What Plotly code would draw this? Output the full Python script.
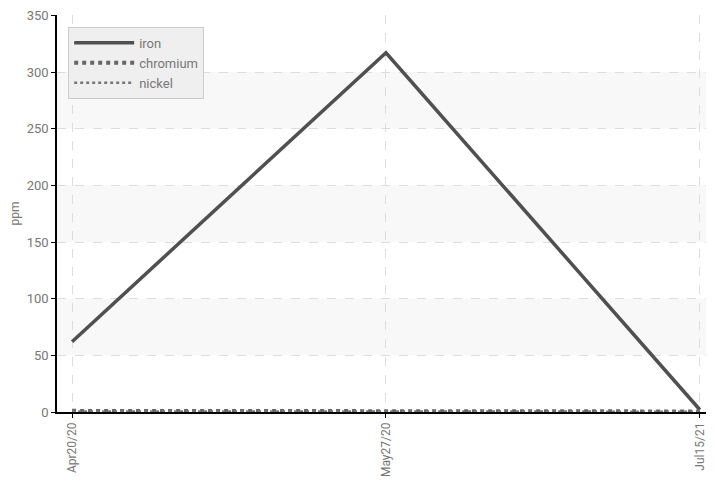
import plotly.graph_objects as go

dates = ["Apr20/20", "May27/20", "Jul15/21"]
iron = [62, 317, 2]
chromium = [1, 1, 0.5]
nickel = [0.5, 0.5, 0.3]
band_ranges = [(50, 100), (150, 200), (250, 300)]
y_ticks = [0, 50, 100, 150, 200, 250, 300, 350]

fig = go.Figure()
fig.add_trace(go.Scatter(x=dates, y=iron, name="iron", mode="lines",
                         line=dict(color="#505050", width=3.5)))
fig.add_trace(go.Scatter(x=dates, y=chromium, name="chromium", mode="lines",
                         line=dict(color="#666666", width=4, dash="dot")))
fig.add_trace(go.Scatter(x=dates, y=nickel, name="nickel", mode="lines",
                         line=dict(color="#777777", width=2.5, dash="dot")))

shapes = []
for lo, hi in band_ranges:
    shapes.append(dict(type="rect", xref="paper", yref="y", x0=0, x1=1, y0=lo, y1=hi,
                       fillcolor="#f8f8f8", line=dict(width=0), layer="below"))

fig.update_layout(
    width=706, height=489,
    margin=dict(l=49, r=0, t=7, b=85, autoexpand=False),
    paper_bgcolor="white", plot_bgcolor="white",
    font=dict(family="Roboto", color="#777777", size=13),
    shapes=shapes,
    showlegend=True,
    legend=dict(x=0.017, y=0.97, xanchor="left", yanchor="top",
                bgcolor="#efefef", bordercolor="#cccccc", borderwidth=1,
                font=dict(size=13, color="#777777"), tracegroupgap=0,
                itemwidth=60, entrywidth=160, entrywidthmode="pixels"),
    xaxis=dict(type="category", range=[-0.048, 2.045], tickangle=-90,
               showgrid=True, gridcolor="#dddddd", griddash="dash", gridwidth=1,
               showline=True, linecolor="black", linewidth=1.5,
               ticks="outside", tickcolor="black", ticklen=4, automargin=False,
               ticklabeloverflow="allow",
               zeroline=False, tickfont=dict(size=12, color="#777777")),
    yaxis=dict(range=[0, 350.3], tickvals=y_ticks,
               showgrid=True, gridcolor="#dddddd", griddash="dash", gridwidth=1,
               showline=True, linecolor="black", linewidth=1.5,
               ticks="outside", tickcolor="black", ticklen=4, automargin=False,
               ticklabeloverflow="allow",
               zeroline=False, title=dict(text="ppm", font=dict(size=12, color="#777777"), standoff=8),
               tickfont=dict(size=13, color="#777777")),
)

fig.write_html("out.html")
